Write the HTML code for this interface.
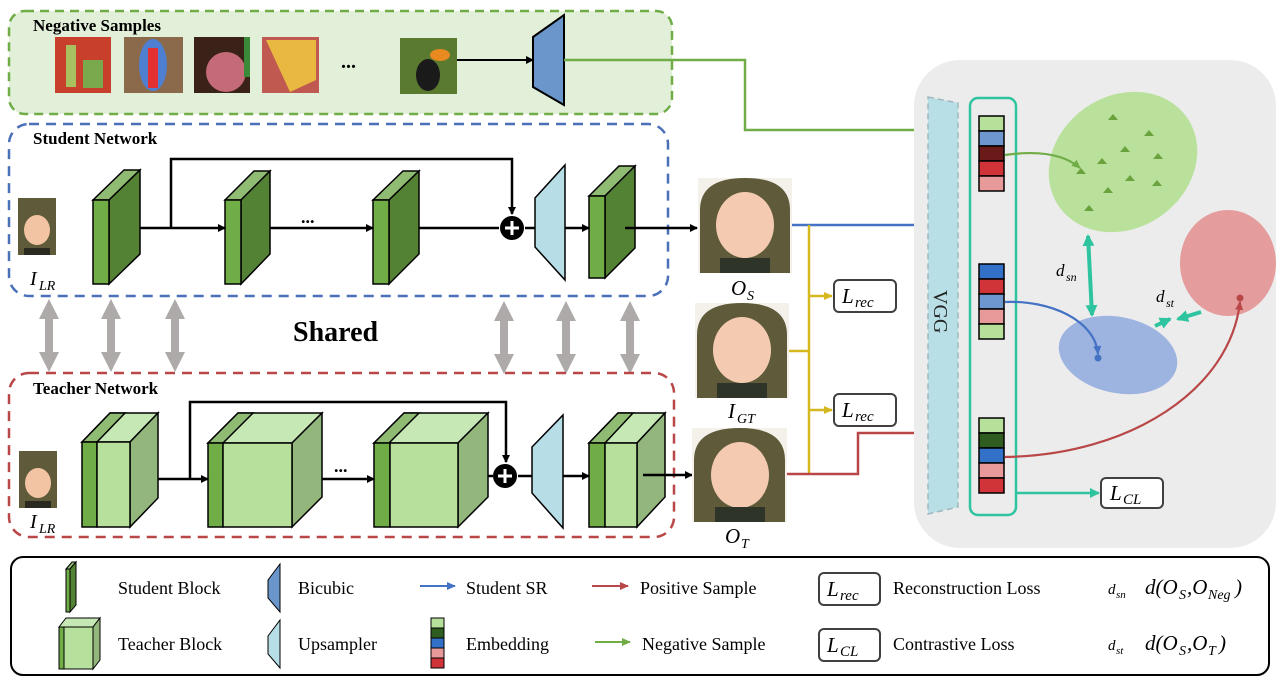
<!DOCTYPE html>
<html><head><meta charset="utf-8"><style>
body{margin:0;background:#fff}
svg{display:block}
text{font-family:"Liberation Serif",serif}
.b{font-weight:bold}
.i{font-style:italic}
</style></head><body>
<svg width="1280" height="680" viewBox="0 0 1280 680" xmlns="http://www.w3.org/2000/svg">
<defs>
<marker id="ak" markerWidth="8" markerHeight="8" refX="7" refY="4" orient="auto" markerUnits="userSpaceOnUse"><path d="M0,0 L8,4 L0,8z" fill="#000"/></marker>
<marker id="ab" markerWidth="9" markerHeight="8" refX="8" refY="4" orient="auto" markerUnits="userSpaceOnUse"><path d="M0,0 L9,4 L0,8z" fill="#4472c4"/></marker>
<marker id="ar" markerWidth="9" markerHeight="8" refX="8" refY="4" orient="auto" markerUnits="userSpaceOnUse"><path d="M0,0 L9,4 L0,8z" fill="#b94748"/></marker>
<marker id="ag" markerWidth="9" markerHeight="8" refX="8" refY="4" orient="auto" markerUnits="userSpaceOnUse"><path d="M0,0 L9,4 L0,8z" fill="#70ad47"/></marker>
<marker id="ay" markerWidth="9" markerHeight="8" refX="8" refY="4" orient="auto" markerUnits="userSpaceOnUse"><path d="M0,0 L9,4 L0,8z" fill="#d4b820"/></marker>
<marker id="at" markerWidth="10" markerHeight="10" refX="9" refY="5" orient="auto" markerUnits="userSpaceOnUse"><path d="M0,0 L10,5 L0,10z" fill="#2ec4a0"/></marker>
<marker id="at2" markerWidth="12" markerHeight="12" refX="10" refY="6" orient="auto-start-reverse" markerUnits="userSpaceOnUse"><path d="M0,0 L12,6 L0,12z" fill="#2ec4a0"/></marker>
<marker id="gr" markerWidth="26" markerHeight="20" refX="4" refY="10" orient="auto-start-reverse" markerUnits="userSpaceOnUse"><path d="M0,0 L20,10 L0,20z" fill="#aeaaaa"/></marker>
</defs>

<!-- Negative samples -->
<rect x="9" y="11" width="663" height="103" rx="16" fill="#e2efd9" stroke="#70ad47" stroke-width="2.5" stroke-dasharray="9,6"/>
<text x="33" y="31" class="b" font-size="17">Negative Samples</text>
<rect x="55" y="37" width="56" height="56" fill="#c8402c"/><rect x="66" y="45" width="10" height="42" fill="#a8c060"/><rect x="83" y="60" width="20" height="28" fill="#7aa84c"/>
<rect x="124" y="37" width="59" height="56" fill="#8a6a4a"/><ellipse cx="153" cy="65" rx="14" ry="26" fill="#4f7fd0"/><rect x="148" y="48" width="10" height="40" fill="#e43030"/>
<rect x="194" y="37" width="56" height="56" fill="#3a2218"/><ellipse cx="226" cy="72" rx="20" ry="20" fill="#c46a78"/><rect x="244" y="37" width="6" height="40" fill="#3a8a3a"/>
<rect x="262" y="37" width="57" height="56" fill="#c05a50"/><polygon points="266,40 316,40 316,80 290,92" fill="#e8b840"/>
<text x="341" y="68" class="b" font-size="20">...</text>
<rect x="400" y="38" width="57" height="56" fill="#5a7a30"/><ellipse cx="428" cy="75" rx="12" ry="16" fill="#1a1a1a"/><ellipse cx="440" cy="55" rx="10" ry="6" fill="#e88a20"/>
<line x1="457" y1="60" x2="533" y2="60" stroke="#000" stroke-width="2" marker-end="url(#ak)"/>
<polygon points="533,37 564,15 564,105 533,87" fill="#6b96cc" stroke="#000" stroke-width="2"/>
<polyline points="564,60 745,60 745,130 927,130" fill="none" stroke="#70ad47" stroke-width="2.5" marker-end="url(#ag)"/>

<!-- Student network -->
<rect x="9" y="124" width="659" height="172" rx="20" fill="none" stroke="#4a70b8" stroke-width="2.5" stroke-dasharray="10,7"/>
<text x="33" y="144" class="b" font-size="17">Student Network</text>

<g stroke="#000" stroke-width="1.5">
<polygon points="93,200 124,170 140,170 109,200" fill="#8fbc72"/><polygon points="109,200 140,170 140,254 109,284" fill="#548235"/><rect x="93" y="200" width="16" height="84" fill="#70ad47"/>
<polygon points="225,200 254,171 270,171 241,200" fill="#8fbc72"/><polygon points="241,200 270,171 270,254 241,284" fill="#548235"/><rect x="225" y="200" width="16" height="84" fill="#70ad47"/>
<polygon points="373,200 403,171 419,171 389,200" fill="#8fbc72"/><polygon points="389,200 419,171 419,254 389,284" fill="#548235"/><rect x="373" y="200" width="16" height="84" fill="#70ad47"/>
<polygon points="589,196 619,166 635,166 605,196" fill="#8fbc72"/><polygon points="605,196 635,166 635,248 605,278" fill="#548235"/><rect x="589" y="196" width="16" height="82" fill="#70ad47"/>
</g>
<g stroke="#000" stroke-width="2.5" fill="none">
<line x1="140" y1="228" x2="225" y2="228" marker-end="url(#ak)"/>
<polyline points="171,228 171,159 512,159 512,214" marker-end="url(#ak)"/>
<line x1="270" y1="228" x2="373" y2="228" marker-end="url(#ak)"/>
<line x1="419" y1="228" x2="499" y2="228"/>
<line x1="525" y1="228" x2="535" y2="228"/>
<line x1="565" y1="228" x2="589" y2="228" marker-end="url(#ak)"/>
<line x1="625" y1="228" x2="697" y2="228" marker-end="url(#ak)"/>
</g>
<text x="301" y="223" class="b" font-size="18">...</text>
<circle cx="512" cy="228" r="12" fill="#000"/><path d="M512,221 V235 M505,228 H519" stroke="#fff" stroke-width="3"/>
<polygon points="535,198 565,165 565,280 535,247" fill="#b7dde6" stroke="#000" stroke-width="1.5"/>

<rect x="18" y="198" width="38" height="57" fill="#5e5a3a"/><ellipse cx="37" cy="230" rx="13" ry="15" fill="#f2c4a4"/><rect x="24" y="248" width="26" height="7" fill="#2a2a20"/>
<text x="30" y="285" class="i" font-size="20">I</text><text x="39" y="290" class="i" font-size="14">LR</text>

<g stroke="#aeaaaa" stroke-width="8">
<line x1="49" y1="315" x2="49" y2="356" marker-start="url(#gr)" marker-end="url(#gr)"/>
<line x1="111" y1="315" x2="111" y2="356" marker-start="url(#gr)" marker-end="url(#gr)"/>
<line x1="175" y1="315" x2="175" y2="356" marker-start="url(#gr)" marker-end="url(#gr)"/>
<line x1="504" y1="317" x2="504" y2="358" marker-start="url(#gr)" marker-end="url(#gr)"/>
<line x1="566" y1="317" x2="566" y2="358" marker-start="url(#gr)" marker-end="url(#gr)"/>
<line x1="630" y1="317" x2="630" y2="358" marker-start="url(#gr)" marker-end="url(#gr)"/>
</g>
<text x="293" y="341" class="b" font-size="28">Shared</text>

<!-- Teacher network -->
<rect x="9" y="373" width="665" height="164" rx="20" fill="none" stroke="#b94748" stroke-width="2.5" stroke-dasharray="10,7"/>
<text x="33" y="394" class="b" font-size="17">Teacher Network</text>
<g stroke="#000" stroke-width="1.5">
<polygon points="82,442 110,413 158,413 130,442" fill="#c6e8b4"/><polygon points="82,442 110,413 125,413 97,442" fill="#8fbc72"/><polygon points="130,442 158,413 158,498 130,527" fill="#93b67d"/><rect x="82" y="442" width="15" height="85" fill="#70ad47"/><rect x="97" y="442" width="33" height="85" fill="#b6e09c"/>
<polygon points="208,443 238,413 322,413 292,443" fill="#c6e8b4"/><polygon points="208,443 238,413 253,413 223,443" fill="#8fbc72"/><polygon points="292,443 322,413 322,497 292,527" fill="#93b67d"/><rect x="208" y="443" width="15" height="84" fill="#70ad47"/><rect x="223" y="443" width="69" height="84" fill="#b6e09c"/>
<polygon points="374,443 404,413 488,413 458,443" fill="#c6e8b4"/><polygon points="374,443 404,413 419,413 389,443" fill="#8fbc72"/><polygon points="458,443 488,413 488,497 458,527" fill="#93b67d"/><rect x="374" y="443" width="16" height="84" fill="#70ad47"/><rect x="390" y="443" width="68" height="84" fill="#b6e09c"/>
<polygon points="589,443 618,413 665,413 637,443" fill="#c6e8b4"/><polygon points="589,443 618,413 633,413 605,443" fill="#8fbc72"/><polygon points="637,443 665,413 665,497 637,527" fill="#93b67d"/><rect x="589" y="443" width="16" height="84" fill="#70ad47"/><rect x="605" y="443" width="32" height="84" fill="#b6e09c"/>
</g>
<g stroke="#000" stroke-width="2.5" fill="none">
<line x1="158" y1="479" x2="208" y2="479" marker-end="url(#ak)"/>
<polyline points="190,479 190,402 506,402 506,462" marker-end="url(#ak)"/>
<line x1="322" y1="479" x2="374" y2="479" marker-end="url(#ak)"/>
<line x1="488" y1="476" x2="493" y2="476"/>
<line x1="518" y1="476" x2="532" y2="476"/>
<line x1="563" y1="476" x2="589" y2="476" marker-end="url(#ak)"/>
<line x1="643" y1="475" x2="692" y2="475" marker-end="url(#ak)"/>
</g>
<text x="334" y="472" class="b" font-size="18">...</text>
<circle cx="505" cy="476" r="12" fill="#000"/><path d="M505,469 V483 M498,476 H512" stroke="#fff" stroke-width="3"/>
<polygon points="532,447 563,415 563,528 532,493" fill="#b7dde6" stroke="#000" stroke-width="1.5"/>
<rect x="19" y="451" width="38" height="57" fill="#5e5a3a"/><ellipse cx="38" cy="483" rx="13" ry="15" fill="#f2c4a4"/><rect x="25" y="501" width="26" height="7" fill="#2a2a20"/>
<text x="30" y="528" class="i" font-size="20">I</text><text x="39" y="533" class="i" font-size="14">LR</text>

<!-- output babies -->
<g>
<rect x="698" y="178" width="94" height="95" fill="#f4f0ea"/><path d="M700,273 L700,210 Q700,178 745,178 Q790,178 790,210 L790,273z" fill="#5e5a3a"/><ellipse cx="745" cy="225" rx="29" ry="33" fill="#f4cbb0"/><rect x="720" y="258" width="50" height="15" fill="#2e3428"/>
<rect x="695" y="303" width="94" height="95" fill="#f4f0ea"/><path d="M697,398 L697,335 Q697,303 742,303 Q787,303 787,335 L787,398z" fill="#5e5a3a"/><ellipse cx="742" cy="350" rx="29" ry="33" fill="#f4cbb0"/><rect x="717" y="383" width="50" height="15" fill="#2e3428"/>
<rect x="692" y="428" width="95" height="94" fill="#f4f0ea"/><path d="M694,522 L694,460 Q694,428 740,428 Q785,428 785,460 L785,522z" fill="#5e5a3a"/><ellipse cx="740" cy="475" rx="29" ry="33" fill="#f4cbb0"/><rect x="715" y="507" width="50" height="15" fill="#2e3428"/>
</g>
<text x="731" y="295" class="i" font-size="21">O</text><text x="747" y="300" class="i" font-size="14">S</text>
<text x="728" y="418" class="i" font-size="21">I</text><text x="737" y="423" class="i" font-size="14">GT</text>
<text x="725" y="543" class="i" font-size="21">O</text><text x="741" y="548" class="i" font-size="14">T</text>

<g fill="none" stroke-width="2.5">
<line x1="792" y1="225" x2="927" y2="225" stroke="#4472c4" marker-end="url(#ab)"/>
<line x1="809" y1="225" x2="809" y2="474" stroke="#d4b820"/>
<line x1="789" y1="351" x2="809" y2="351" stroke="#d4b820"/>
<line x1="809" y1="296" x2="832" y2="296" stroke="#d4b820" marker-end="url(#ay)"/>
<line x1="809" y1="410" x2="832" y2="410" stroke="#d4b820" marker-end="url(#ay)"/>
<polyline points="787,474 858,474 858,433 927,433" stroke="#b94748" marker-end="url(#ar)"/>
</g>
<rect x="834" y="280" width="62" height="32" rx="5" fill="#fff" stroke="#404040" stroke-width="2"/>
<text x="842" y="303" class="i" font-size="21">L</text><text x="855" y="307" class="i" font-size="15">rec</text>
<rect x="834" y="394" width="62" height="32" rx="5" fill="#fff" stroke="#404040" stroke-width="2"/>
<text x="842" y="417" class="i" font-size="21">L</text><text x="855" y="421" class="i" font-size="15">rec</text>

<!-- right panel -->
<rect x="914" y="60" width="362" height="488" rx="46" fill="#ececec"/>
<polygon points="928,97 958,103 958,507 928,514" fill="#b9dfe6" stroke="#9fb8bf" stroke-width="1.5" stroke-dasharray="6,4"/>
<text x="0" y="0" font-family="Liberation Sans,sans-serif" font-size="20" transform="translate(934,290) rotate(90)" fill="#222">VGG</text>
<rect x="970" y="98" width="46" height="417" rx="8" fill="none" stroke="#2ec4a0" stroke-width="2.5"/>
<g stroke="#000" stroke-width="1.5">
<rect x="979" y="116" width="25" height="15" fill="#b7e19b"/><rect x="979" y="131" width="25" height="15" fill="#6f97cf"/><rect x="979" y="146" width="25" height="15" fill="#6b1a1a"/><rect x="979" y="161" width="25" height="15" fill="#d13438"/><rect x="979" y="176" width="25" height="15" fill="#e89a9a"/>
<rect x="979" y="264" width="25" height="15" fill="#3370c8"/><rect x="979" y="279" width="25" height="15" fill="#d13438"/><rect x="979" y="294" width="25" height="15" fill="#6f97cf"/><rect x="979" y="309" width="25" height="15" fill="#e89a9a"/><rect x="979" y="324" width="25" height="15" fill="#b7e19b"/>
<rect x="979" y="418" width="25" height="15" fill="#b7e19b"/><rect x="979" y="433" width="25" height="15" fill="#2f5d1f"/><rect x="979" y="448" width="25" height="15" fill="#3370c8"/><rect x="979" y="463" width="25" height="15" fill="#e89a9a"/><rect x="979" y="478" width="25" height="15" fill="#d13438"/>
</g>
<ellipse cx="1123" cy="162" rx="78" ry="66" transform="rotate(-35 1123 162)" fill="#b9e19c"/>
<ellipse cx="1228" cy="263" rx="48" ry="53" fill="#e49c9c"/>
<ellipse cx="1118" cy="355" rx="60" ry="38" transform="rotate(12 1118 355)" fill="#9db4e0"/>
<g fill="#6aa23e">
<polygon points="1113,114 1108,120 1118,120"/><polygon points="1149,130 1144,136 1154,136"/><polygon points="1125,146 1120,152 1130,152"/><polygon points="1158,153 1153,159 1163,159"/><polygon points="1102,158 1097,164 1107,164"/><polygon points="1081,168 1076,174 1086,174"/><polygon points="1130,175 1125,181 1135,181"/><polygon points="1157,180 1152,186 1162,186"/><polygon points="1108,187 1103,193 1113,193"/><polygon points="1089,205 1084,211 1094,211"/>
</g>
<circle cx="1098" cy="358" r="3.5" fill="#4472c4"/>
<circle cx="1240" cy="298" r="3.5" fill="#b94748"/>
<g fill="none" stroke-width="2.2">
<path d="M1005,155 C1040,150 1065,155 1080,168" stroke="#70ad47" marker-end="url(#ag)"/>
<path d="M1005,302 C1050,300 1095,320 1098,354" stroke="#4472c4" marker-end="url(#ab)"/>
<path d="M1005,457 C1130,455 1230,390 1240,302" stroke="#b94748" marker-end="url(#ar)"/>
</g>
<line x1="1088" y1="236" x2="1092" y2="315" stroke="#2ec4a0" stroke-width="4" marker-start="url(#at2)" marker-end="url(#at2)"/>
<line x1="1155" y1="326" x2="1170" y2="319" stroke="#2ec4a0" stroke-width="4" marker-end="url(#at2)"/>
<line x1="1201" y1="312" x2="1178" y2="319" stroke="#2ec4a0" stroke-width="4" marker-end="url(#at2)"/>
<text x="1056" y="276" class="i" font-size="17">d</text><text x="1066" y="281" class="i" font-size="12">sn</text>
<text x="1156" y="302" class="i" font-size="17">d</text><text x="1166" y="307" class="i" font-size="12">st</text>
<line x1="1016" y1="493" x2="1099" y2="493" stroke="#2ec4a0" stroke-width="2.5" marker-end="url(#at)"/>
<rect x="1101" y="478" width="62" height="30" rx="5" fill="#fff" stroke="#404040" stroke-width="2"/>
<text x="1110" y="500" class="i" font-size="21">L</text><text x="1123" y="504" class="i" font-size="15">CL</text>

<!-- Legend -->
<rect x="11" y="557" width="1258" height="118" rx="12" fill="#fff" stroke="#000" stroke-width="2"/>
<g stroke="#000" stroke-width="1">
<polygon points="66,569 72,562 76,562 70,569" fill="#8fbc72"/><polygon points="70,569 76,562 76,605 70,612" fill="#548235"/><rect x="66" y="569" width="4" height="43" fill="#70ad47"/>
<polygon points="59,627 66,618 100,618 93,627" fill="#c6e8b4"/><polygon points="93,627 100,618 100,660 93,669" fill="#93b67d"/><rect x="59" y="627" width="5" height="42" fill="#70ad47"/><rect x="64" y="627" width="29" height="42" fill="#b6e09c"/>
<polygon points="268,580 280,564 280,612 268,598" fill="#6b96cc"/>
<polygon points="268,636 280,620 280,668 268,654" fill="#b7dde6"/>
<rect x="431" y="618" width="13" height="10" fill="#b7e19b"/><rect x="431" y="628" width="13" height="10" fill="#2f5d1f"/><rect x="431" y="638" width="13" height="10" fill="#3370c8"/><rect x="431" y="648" width="13" height="10" fill="#e89a9a"/><rect x="431" y="658" width="13" height="10" fill="#d13438"/>
</g>
<g font-size="18">
<text x="118" y="594">Student Block</text>
<text x="118" y="650">Teacher Block</text>
<text x="298" y="594">Bicubic</text>
<text x="298" y="650">Upsampler</text>
<text x="466" y="594">Student SR</text>
<text x="466" y="650">Embedding</text>
<text x="640" y="594">Positive Sample</text>
<text x="642" y="650">Negative Sample</text>
<text x="893" y="594">Reconstruction Loss</text>
<text x="893" y="650">Contrastive Loss</text>
</g>
<line x1="420" y1="586" x2="455" y2="586" stroke="#4472c4" stroke-width="2" marker-end="url(#ab)"/>
<line x1="592" y1="586" x2="628" y2="586" stroke="#b94748" stroke-width="2" marker-end="url(#ar)"/>
<line x1="595" y1="642" x2="630" y2="642" stroke="#70ad47" stroke-width="2" marker-end="url(#ag)"/>
<rect x="819" y="573" width="61" height="32" rx="5" fill="#fff" stroke="#404040" stroke-width="2"/>
<text x="827" y="596" class="i" font-size="21">L</text><text x="840" y="600" class="i" font-size="15">rec</text>
<rect x="819" y="629" width="61" height="32" rx="5" fill="#fff" stroke="#404040" stroke-width="2"/>
<text x="827" y="652" class="i" font-size="21">L</text><text x="840" y="656" class="i" font-size="15">CL</text>
<text x="1108" y="594" class="i" font-size="15">d</text><text x="1116" y="598" class="i" font-size="11">sn</text>
<text x="1108" y="650" class="i" font-size="15">d</text><text x="1116" y="654" class="i" font-size="11">st</text>
<text x="1145" y="594" class="i" font-size="21">d(O</text><text x="1179" y="599" class="i" font-size="14">S</text><text x="1187" y="594" class="i" font-size="21">,O</text><text x="1208" y="599" class="i" font-size="14">Neg</text><text x="1235" y="594" class="i" font-size="21">)</text>
<text x="1145" y="650" class="i" font-size="21">d(O</text><text x="1179" y="655" class="i" font-size="14">S</text><text x="1187" y="650" class="i" font-size="21">,O</text><text x="1208" y="655" class="i" font-size="14">T</text><text x="1219" y="650" class="i" font-size="21">)</text>
</svg>
</body></html>
